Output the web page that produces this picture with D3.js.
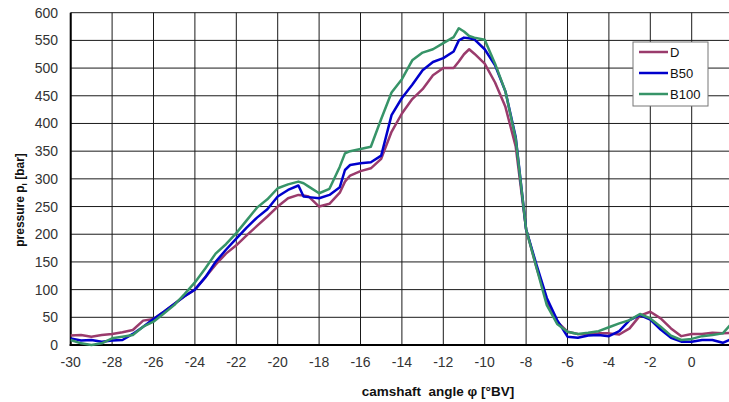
<!DOCTYPE html>
<html><head><meta charset="utf-8">
<script src="https://cdn.jsdelivr.net/npm/d3@7"></script>
<style>
html,body{margin:0;padding:0;background:#fff;}
svg{display:block;font-family:"Liberation Sans",Arial,sans-serif;}
</style></head>
<body><svg id="c" width="729" height="402"></svg>
<script>
const angles = [-30,-29.5,-29,-28.5,-28,-27.5,-27,-26.5,-26,-25.5,-25,-24.5,-24,-23.5,-23,-22.5,-22,-21.5,-21,-20.5,-20,-19.5,-19,-18.75,-18.5,-18,-17.5,-17,-16.75,-16.5,-16,-15.5,-15,-14.5,-14,-13.5,-13,-12.5,-12,-11.5,-11.25,-11,-10.75,-10.5,-10,-9.5,-9,-8.5,-8,-7.5,-7,-6.5,-6,-5.5,-5,-4.5,-4,-3.5,-3,-2.5,-2,-1.5,-1,-0.5,0,0.5,1,1.5,2];
const seriesD = [17,18,15,18,20,23,27,44,47,60,74,88,100,122,145,165,180,198,215,232,250,265,271,270,268,250,255,275,295,306,314,319,336,385,418,444,462,487,500,500,512,525,534,526,508,474,430,358,209,140,80,42,24,20,19,21,21,19,30,53,60,48,30,16,20,20,22,21,22];
const seriesB50 = [12,8,9,6,8,9,20,33,47,60,74,88,100,122,150,172,192,212,230,245,268,280,288,268,267,265,271,285,316,325,328,330,342,415,446,470,496,511,518,530,550,555,554,552,534,505,458,375,209,145,85,45,15,13,17,18,16,25,45,54,46,28,13,6,6,9,9,4,12];
const seriesB100 = [9,3,0,3,12,15,18,33,42,57,72,92,113,138,165,182,202,225,248,263,283,290,295,292,286,274,282,322,346,350,354,358,408,456,480,514,528,534,545,556,572,566,558,555,551,508,458,372,209,140,72,38,24,20,22,25,32,39,45,56,48,33,17,9,11,16,18,21,42];
const seriesNames = ["D","B50","B100"];
const seriesColors = ["#9a3b6c","#0000cc","#379468"];
const xTicks = [-30,-28,-26,-24,-22,-20,-18,-16,-14,-12,-10,-8,-6,-4,-2,0];
const yTicks = [0,50,100,150,200,250,300,350,400,450,500,550,600];

const svg = d3.select("#c");
const x = d3.scaleLinear().domain([-30,2]).range([70.7,733.1]);
const y = d3.scaleLinear().domain([0,600]).range([345,12.7]);

// grid
const g = svg.append("g");
g.selectAll("line.h").data(yTicks).enter().append("line")
  .attr("x1",x(-30)).attr("x2",729).attr("y1",d=>y(d)).attr("y2",d=>y(d))
  .attr("stroke","#1a1a1a").attr("stroke-width",1);
g.selectAll("line.v").data(xTicks).enter().append("line")
  .attr("y1",y(600)).attr("y2",y(0)).attr("x1",d=>x(d)).attr("x2",d=>x(d))
  .attr("stroke","#1a1a1a").attr("stroke-width",1);

// axes lines
svg.append("line").attr("x1",x(-30)).attr("x2",x(-30)).attr("y1",y(600)).attr("y2",y(0)+1).attr("stroke","#000").attr("stroke-width",2);
svg.append("line").attr("x1",x(-30)-1).attr("x2",729).attr("y1",y(0)).attr("y2",y(0)).attr("stroke","#000").attr("stroke-width",2);

// tick labels
svg.selectAll("text.yt").data(yTicks).enter().append("text")
  .attr("x",58).attr("y",d=>y(d)+5).attr("text-anchor","end")
  .attr("font-size",14).attr("fill","#333").text(d=>d);
svg.selectAll("text.xt").data(xTicks).enter().append("text")
  .attr("x",d=>x(d)).attr("y",367).attr("text-anchor","middle")
  .attr("font-size",14).attr("fill","#333").text(d=>d);

// lines
const data = [seriesD, seriesB50, seriesB100];
const line = d3.line().x((d,i)=>x(angles[i])).y(d=>y(d));
svg.selectAll("path.s").data(data).enter().append("path")
  .attr("d",d=>line(d)).attr("fill","none")
  .attr("stroke",(d,i)=>seriesColors[i]).attr("stroke-width",2.5)
  .attr("stroke-linejoin","round");

// legend
const lg = svg.append("g");
lg.append("rect").attr("x",633).attr("y",42).attr("width",75).attr("height",64)
  .attr("fill","#fff").attr("stroke","#777").attr("stroke-width",1);
seriesNames.forEach((n,i)=>{
  const yy = 52 + i*21;
  lg.append("line").attr("x1",639).attr("x2",668).attr("y1",yy).attr("y2",yy)
    .attr("stroke",seriesColors[i]).attr("stroke-width",2.5);
  lg.append("text").attr("x",670).attr("y",yy+5).attr("font-size",13).attr("fill","#111").text(n);
});

// axis titles
const yl = svg.append("text").attr("transform","translate(24,200) rotate(-90)")
  .attr("text-anchor","middle").attr("font-size",12).attr("font-weight","bold").attr("fill","#111");
yl.append("tspan").text("pressure p");
yl.append("tspan").attr("font-size",8).attr("dy",3).text("l");
yl.append("tspan").attr("dy",-3).text(" [bar]");

svg.append("text").attr("x",438).attr("y",396).attr("text-anchor","middle")
  .attr("font-size",13.5).attr("font-weight","bold").attr("fill","#111")
  .attr("xml:space","preserve").style("white-space","pre")
  .text("camshaft  angle φ [°BV]");
</script></body></html>
